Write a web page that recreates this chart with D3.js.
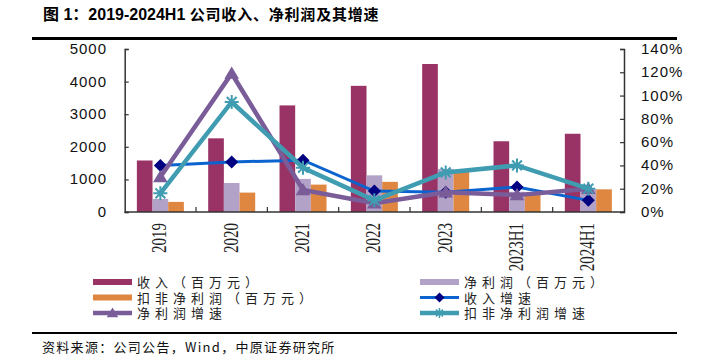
<!DOCTYPE html>
<html><head><meta charset="utf-8">
<script src="https://cdn.jsdelivr.net/npm/d3@7/dist/d3.min.js"></script>
<style>
body{margin:0;background:#fff;}
svg{display:block;}
</style></head>
<body>
<svg id="c" width="709" height="357"></svg>
<script>
const categories = ["2019","2020","2021","2022","2023","2023H1","2024H1"];
const revenue   = [1580, 2260, 3270, 3870, 4540, 2170, 2400];
const netProfit = [400, 890, 1015, 1125, 1320, 620, 705];
const deducted  = [310, 595, 840, 925, 1240, 575, 695];
const revenueGrowth   = [0.40, 0.43, 0.445, 0.18, 0.17, 0.215, 0.10];
const netGrowth       = [0.30, 1.19, 0.19, 0.075, 0.17, 0.145, 0.20];
const deductedGrowth  = [0.16, 0.945, 0.38, 0.10, 0.34, 0.40, 0.20];
const leftTicks  = [0, 1000, 2000, 3000, 4000, 5000];
const rightTicks = [0, 0.2, 0.4, 0.6, 0.8, 1.0, 1.2, 1.4];
const barNames  = ["收入（百万元）","净利润（百万元）","扣非净利润（百万元）"];
const lineNames = ["收入增速","净利润增速","扣非净利润增速"];
const title1 = "图 1：2019-2024H1 ";
const title2 = "公司收入、净利润及其增速";
const source = "资料来源：公司公告，Wind，中原证券研究所";

const C = {rev:"#993366", net:"#b3a2c7", ded:"#df8640", revG:"#0a63cf", revM:"#000080", netG:"#7a5c99", dedG:"#3f9cb1"};
const svg = d3.select("#c");
const X0 = 124.7, X1 = 624, YT = 49, YB = 212;

const x = d3.scaleBand().domain(categories).range([X0, X1]).padding(0);
const bw = x.bandwidth();
const xs = d3.scaleBand().domain([0,1,2]).range([bw/2 - 23.5, bw/2 + 23.5]).padding(0);
const yL = d3.scaleLinear().domain([0,5000]).range([YB, YT]);
const yR = d3.scaleLinear().domain([0,1.4]).range([YB, YT]);

// title
const t = svg.append("text").attr("x",43).attr("y",20).attr("fill","#000");
t.append("tspan").text(title1).attr("font-family","'Liberation Sans','Noto Sans CJK SC',sans-serif").attr("font-weight","bold").attr("font-size",16);
t.append("tspan").text(title2).attr("font-family","'Noto Sans CJK SC',sans-serif").attr("font-weight","bold").attr("font-size",15).attr("letter-spacing",0.8);
svg.append("rect").attr("x",32).attr("y",37).attr("width",645).attr("height",3).attr("fill","#000");

// bars
const barSeries = [revenue, netProfit, deducted];
const barColors = [C.rev, C.net, C.ded];
barSeries.forEach((s,i)=>{
  svg.append("g").selectAll("rect").data(s).join("rect")
    .attr("x",(d,j)=>x(categories[j]) + xs(i))
    .attr("y",d=>yL(d))
    .attr("width",xs.bandwidth())
    .attr("height",d=>YB - yL(d))
    .attr("fill",barColors[i]);
});

// axes
const axisColor = "#333";
const gl = svg.append("g").attr("transform",`translate(${X0},0)`)
  .call(d3.axisRight(yL).tickValues(leftTicks).tickSize(4).tickFormat(d=>d));
gl.selectAll("text").remove();
svg.append("g").selectAll("text").data(leftTicks).join("text")
  .attr("x",107).attr("y",d=>yL(d)+5).attr("text-anchor","end")
  .attr("font-family","'Liberation Sans',Arial,sans-serif").attr("font-size",15).attr("letter-spacing",1)
  .attr("fill","#111").text(d=>d);
const gr = svg.append("g").attr("transform",`translate(${X1},0)`)
  .call(d3.axisLeft(yR).tickValues(rightTicks).tickSize(4));
gr.selectAll("text").remove();
svg.append("g").selectAll("text").data(rightTicks).join("text")
  .attr("x",641).attr("y",d=>yR(d)+5).attr("text-anchor","start")
  .attr("font-family","'Liberation Sans',Arial,sans-serif").attr("font-size",15).attr("letter-spacing",1)
  .attr("fill","#111").text(d3.format(".0%"));
[gl,gr].forEach(g=>{g.select(".domain").attr("stroke",axisColor).attr("stroke-width",1.5);g.selectAll(".tick line").attr("stroke",axisColor).attr("stroke-width",1.2);});

// x axis
svg.append("line").attr("x1",X0).attr("x2",X1).attr("y1",YB).attr("y2",YB).attr("stroke",axisColor).attr("stroke-width",1.5);
const bounds = categories.map(c=>x(c)).concat([X1]);
svg.append("g").selectAll("line").data(bounds.slice(1,-1)).join("line")
  .attr("x1",d=>d).attr("x2",d=>d).attr("y1",YB).attr("y2",YB-5).attr("stroke",axisColor).attr("stroke-width",1.2);
svg.append("g").selectAll("text").data(categories).join("text")
  .attr("transform",d=>`translate(${x(d)+bw/2+6},223) rotate(-90) scale(0.68,1)`)
  .attr("text-anchor","end")
  .attr("font-family","'Liberation Serif','DejaVu Serif',serif").attr("font-size",22)
  .attr("fill","#222").text(d=>d);

// lines
const cx = (d,j)=>x(categories[j]) + bw/2;
function drawLine(data,color,width){
  svg.append("path").datum(data)
    .attr("d",d3.line().x(cx).y(d=>yR(d)))
    .attr("fill","none").attr("stroke",color).attr("stroke-width",width).attr("stroke-linejoin","miter");
}
const diamond = s=>`M0,${-s}L${s},0L0,${s}L${-s},0Z`;
const triangle = s=>`M0,${-s}L${s*1.05},${s*0.75}L${-s*1.05},${s*0.75}Z`;
const star = s=>`M${-s},0L${s},0M0,${-s}L0,${s}M${-s*0.7},${-s*0.7}L${s*0.7},${s*0.7}M${-s*0.7},${s*0.7}L${s*0.7},${-s*0.7}`;

drawLine(revenueGrowth, C.revG, 3);
svg.append("g").selectAll("path").data(revenueGrowth).join("path")
  .attr("transform",(d,j)=>`translate(${cx(d,j)},${yR(d)})`).attr("d",diamond(6.5)).attr("fill",C.revM);
drawLine(netGrowth, C.netG, 4.5);
svg.append("g").selectAll("path").data(netGrowth).join("path")
  .attr("transform",(d,j)=>`translate(${cx(d,j)},${yR(d)})`).attr("d",triangle(7)).attr("fill",C.netG);
drawLine(deductedGrowth, C.dedG, 4.5);
svg.append("g").selectAll("path").data(deductedGrowth).join("path")
  .attr("transform",(d,j)=>`translate(${cx(d,j)},${yR(d)})`).attr("d",star(7)).attr("fill","none").attr("stroke",C.dedG).attr("stroke-width",2);

// legend
const legItems = [
  {name:barNames[0], type:"bar", color:C.rev},
  {name:barNames[1], type:"bar", color:C.net},
  {name:barNames[2], type:"bar", color:C.ded},
  {name:lineNames[0], type:"line", color:C.revG, mk:"d", mc:C.revM, w:3},
  {name:lineNames[1], type:"line", color:C.netG, mk:"t", mc:C.netG, w:4.5},
  {name:lineNames[2], type:"line", color:C.dedG, mk:"s", mc:C.dedG, w:4.5},
];
const colX = [93, 420], rowY = [282, 297.5, 313];
legItems.forEach((it,i)=>{
  const lx = colX[i%2], ly = rowY[Math.floor(i/2)];
  const g = svg.append("g");
  if(it.type==="bar"){
    g.append("rect").attr("x",lx).attr("y",ly-3).attr("width",39).attr("height",6).attr("fill",it.color);
  } else {
    g.append("line").attr("x1",lx).attr("x2",lx+39).attr("y1",ly).attr("y2",ly).attr("stroke",it.color).attr("stroke-width",it.w);
    const m = g.append("path").attr("transform",`translate(${lx+19.5},${ly})`);
    if(it.mk==="d") m.attr("d",diamond(5)).attr("fill",it.mc);
    if(it.mk==="t") m.attr("d",triangle(5.5)).attr("fill",it.mc);
    if(it.mk==="s") m.attr("d",star(5)).attr("fill","none").attr("stroke",it.mc).attr("stroke-width",1.5);
  }
  g.append("text").attr("x",lx+44).attr("y",ly+5)
    .attr("font-family","'Liberation Sans','Noto Sans CJK SC',sans-serif").attr("font-size",13).attr("letter-spacing",5)
    .attr("fill","#222").text(it.name);
});

// bottom rule and source
svg.append("rect").attr("x",32).attr("y",332).attr("width",645).attr("height",2).attr("fill","#000");
svg.append("text").attr("x",42).attr("y",352)
  .attr("font-family","'Noto Sans CJK SC',sans-serif").attr("font-size",13).attr("letter-spacing",1.3)
  .attr("fill","#111").text(source);
</script>
</body></html>
